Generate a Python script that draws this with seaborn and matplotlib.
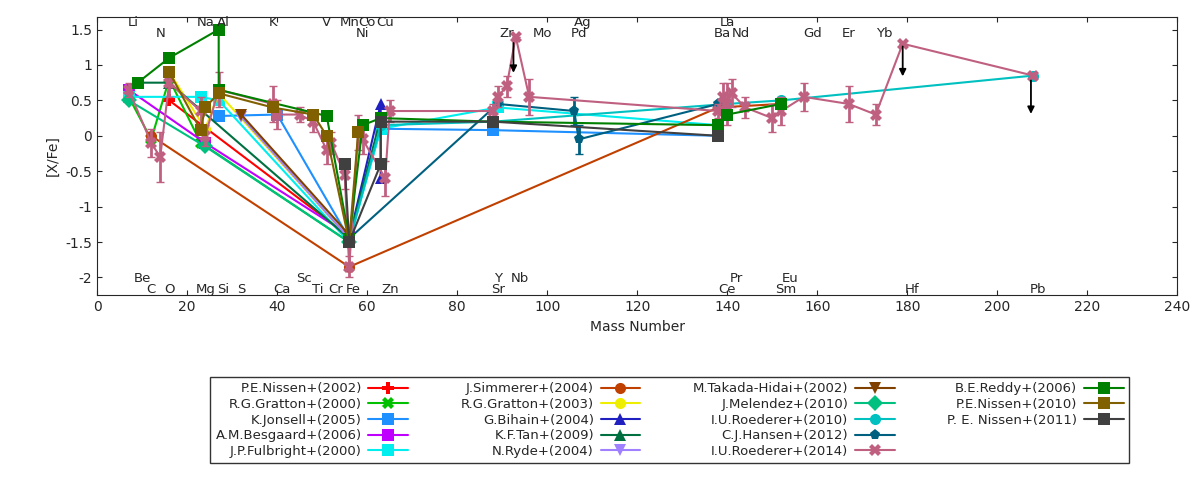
import numpy as np
import matplotlib
matplotlib.use("Agg")
import matplotlib.pyplot as plt
from matplotlib.lines import Line2D
import seaborn as sns

sns.set_style("ticks")
plt.rcParams['font.family'] = ['DejaVu Sans']

# series: name, color, marker, x (mass number), y ([X/Fe]), yerr
names = ["P.E.Nissen+(2002)", "R.G.Gratton+(2000)", "K.Jonsell+(2005)", "A.M.Besgaard+(2006)",
         "J.P.Fulbright+(2000)", "J.Simmerer+(2004)", "R.G.Gratton+(2003)", "G.Bihain+(2004)",
         "K.F.Tan+(2009)", "N.Ryde+(2004)", "M.Takada-Hidai+(2002)", "J.Melendez+(2010)",
         "I.U.Roederer+(2010)", "C.J.Hansen+(2012)", "I.U.Roederer+(2014)", "B.E.Reddy+(2006)",
         "P.E.Nissen+(2010)", "P. E. Nissen+(2011)"]
colors = ["#ff0000", "#00c000", "#1e90ff", "#c000ff", "#00eeee", "#c04000", "#eeee00", "#2020c0",
          "#007040", "#a080ff", "#804000", "#00c080", "#00c0c0", "#006080", "#c06080", "#008000",
          "#806000", "#404040"]
markers = ["P", "X", "s", "s", "s", "o", "o", "^", "^", "v", "v", "D", "o", "p", "X", "s", "s", "s"]

xs = [
    [16, 56],
    [7, 12, 16, 23, 56],
    [27, 40, 56, 63, 88, 138],
    [7, 24, 56],
    [7, 23, 27, 56, 63, 89, 138],
    [12, 56, 138, 152],
    [16, 24, 27, 56],
    [56, 63, 63],
    [9, 16, 56, 63],
    [32, 56],
    [32, 56],
    [7, 24, 56],
    [56, 63, 88, 140, 152, 208],
    [56, 89, 106, 107, 138],
    [7, 12, 14, 16, 23, 24, 27, 39, 40, 45, 48, 51, 52, 55, 56, 58, 59, 64, 65,
     88, 89, 91, 93, 96, 138, 139, 140, 141, 144, 150, 152, 157, 167, 173, 179, 208],
    [9, 16, 27, 27, 51, 56, 59, 63, 88, 138, 140, 152],
    [16, 23, 24, 27, 39, 48, 51, 56, 58],
    [55, 56, 63, 63, 88, 138],
]
ys = [
    [0.5, -1.42],
    [0.55, -0.05, 0.8, -0.1, -1.5],
    [0.28, 0.3, -1.45, 0.1, 0.08, 0.0],
    [0.65, -0.1, -1.4],
    [0.55, 0.55, 0.5, -1.5, 0.1, 0.4, 0.15],
    [0.0, -1.85, 0.4, 0.45],
    [0.9, 0.1, 0.6, -1.45],
    [-1.45, 0.45, -0.6],
    [0.75, 0.75, -1.45, 0.25],
    [0.27, -1.45],
    [0.3, -1.4],
    [0.5, -0.15, -1.5],
    [-1.5, 0.15, 0.2, 0.45, 0.5, 0.85],
    [-1.45, 0.45, 0.35, -0.05, 0.45],
    [0.65, -0.1, -0.3, 0.75, 0.35, 0.0, 0.65, 0.45, 0.3, 0.3, 0.2, -0.2, -0.1, -0.55, -1.85,
     0.05, -0.05, -0.6, 0.35, 0.35, 0.55, 0.7, 1.4, 0.55, 0.35, 0.55, 0.45, 0.6, 0.4, 0.25,
     0.35, 0.55, 0.45, 0.3, 1.3, 0.85],
    [0.75, 1.1, 1.5, 0.65, 0.28, -1.45, 0.15, 0.25, 0.2, 0.15, 0.3, 0.45],
    [0.9, 0.08, 0.4, 0.6, 0.4, 0.3, 0.0, -1.5, 0.05],
    [-0.4, -1.5, -0.4, 0.2, 0.2, 0.0],
]
pink_err = [0.1, 0.2, 0.35, 0.2, 0.2, 0.15, 0.25, 0.25, 0.2, 0.1, 0.15, 0.2, 0.15, 0.2, 0.15,
            0.25, 0.2, 0.25, 0.15, 0.1, 0.15, 0.15, 0.0, 0.25, 0.1, 0.2, 0.3, 0.2, 0.15, 0.2,
            0.2, 0.2, 0.25, 0.15, 0.0, 0.0]

top_labels = ["Li", "Na", "Al", "K", "V", "Mn", "Co", "Cu", "Ag", "La"]
top_x = [8, 24, 28, 39, 51, 56, 60, 64, 108, 140]
top2_labels = ["N", "Ni", "Zr", "Mo", "Pd", "Ba", "Nd", "Gd", "Er", "Yb"]
top2_x = [14, 59, 91, 99, 107, 139, 143, 159, 167, 175]
bot_labels = ["C", "O", "Mg", "Si", "S", "Ca", "Ti", "Cr", "Fe", "Zn", "Sr", "Ce", "Sm", "Hf", "Pb"]
bot_x = [12, 16, 24, 28, 32, 41, 49, 53, 57, 65, 89, 140, 153, 181, 209]
bot2_labels = ["Be", "Sc", "Y", "Nb", "Pr", "Eu"]
bot2_x = [10, 46, 89, 94, 142, 154]

arrows_x = [92.5, 179, 207.5]
arrows_y = [1.35, 1.3, 0.82]
arrows_len = [0.5, 0.5, 0.55]

fig = plt.figure(figsize=(12, 4.8), dpi=100)
ax = fig.add_axes([0.081, 0.385, 0.9, 0.58])

for i, name in enumerate(names):
    sns.lineplot(x=xs[i], y=ys[i], sort=False, color=colors[i], marker=markers[i],
                 markersize=8, markeredgewidth=0, linewidth=1.5, label=name, ax=ax,
                 estimator=None)
    if i == 14:
        ax.errorbar(xs[i], ys[i], yerr=pink_err, fmt="none", ecolor=colors[i],
                    elinewidth=2, capsize=3)
    elif i == 13:
        ax.errorbar(xs[i][2:4], ys[i][2:4], yerr=[0.2, 0.2], fmt="none", ecolor=colors[i],
                    elinewidth=2, capsize=3)

for x, y, d in zip(arrows_x, arrows_y, arrows_len):
    ax.annotate("", xy=(x, y - d), xytext=(x, y),
                arrowprops=dict(arrowstyle="-|>", color="black", lw=1.3))

fs = 9.5
for lab, x in zip(top_labels, top_x):
    ax.text(x, 1.55, lab, ha="center", fontsize=fs)
for lab, x in zip(top2_labels, top2_x):
    ax.text(x, 1.4, lab, ha="center", fontsize=fs)
for lab, x in zip(bot_labels, bot_x):
    ax.text(x, -2.22, lab, ha="center", fontsize=fs)
for lab, x in zip(bot2_labels, bot2_x):
    ax.text(x, -2.07, lab, ha="center", fontsize=fs)

ax.set_xlim(0, 240)
ax.set_ylim(-2.25, 1.68)
ax.set_xticks(np.arange(0, 241, 20))
ax.set_yticks([-2, -1.5, -1, -0.5, 0, 0.5, 1, 1.5])
ax.set_yticklabels(["-2", "-1.5", "-1", "-0.5", "0", "0.5", "1", "1.5"])
ax.tick_params(direction="in", top=True, right=True, labelsize=10)
for s in ax.spines.values():
    s.set_visible(True)
ax.set_xlabel("Mass Number", fontsize=10)
ax.set_ylabel("[X/Fe]", fontsize=10)

handles, labels = ax.get_legend_handles_labels()
blank = Line2D([], [], linestyle="none")
handles += [blank, blank]
labels += ["", ""]
ax.legend(handles, labels, loc="upper center", bbox_to_anchor=(0.53, -0.27), ncol=4,
          markerfirst=False, fontsize=9.5, frameon=True, fancybox=False,
          edgecolor="black", handlelength=3, labelspacing=0.2, columnspacing=4,
          borderpad=0.4, handletextpad=0.5)
fig.savefig("out.png", dpi=100)
